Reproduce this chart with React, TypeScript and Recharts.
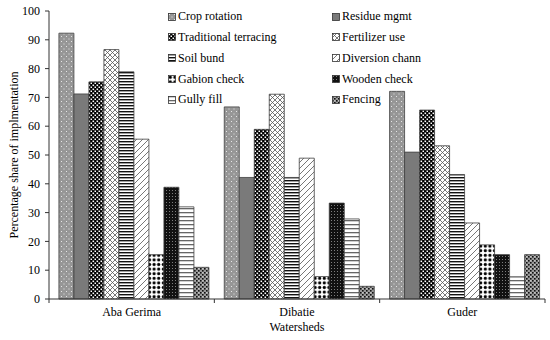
import React from 'react';
import { BarChart, Bar, XAxis, YAxis } from 'recharts';

const categories = ['Aba Gerima', 'Dibatie', 'Guder'];
const cropRotation = [92.3, 66.7, 72.1];
const residueMgmt = [71.2, 42.2, 51.0];
const traditionalTerracing = [75.4, 58.9, 65.6];
const fertilizerUse = [86.6, 71.1, 53.2];
const soilBund = [78.9, 42.2, 43.2];
const diversionChann = [55.5, 48.9, 26.4];
const gabionCheck = [15.4, 7.8, 18.8];
const woodenCheck = [38.8, 33.3, 15.4];
const gullyFill = [32.0, 27.8, 7.7];
const fencing = [11.0, 4.4, 15.4];
const yTicks = [0, 10, 20, 30, 40, 50, 60, 70, 80, 90, 100];

const seriesNames = [
  'Crop rotation', 'Residue mgmt', 'Traditional terracing', 'Fertilizer use', 'Soil bund',
  'Diversion chann', 'Gabion check', 'Wooden check', 'Gully fill', 'Fencing',
];
const seriesValues = [
  cropRotation, residueMgmt, traditionalTerracing, fertilizerUse, soilBund,
  diversionChann, gabionCheck, woodenCheck, gullyFill, fencing,
];

const data = categories.map((name, i) => {
  const row: Record<string, any> = { name };
  seriesValues.forEach((vals, s) => { row['s' + s] = vals[i]; });
  return row;
});

const W = 550;
const H = 340;
const M = { top: 11, right: 5, bottom: 0, left: 0 };
const YW = 49;
const XH = 41;
const PLOT_BOTTOM = H - XH - M.bottom;
const BAND = (W - M.left - M.right - YW) / categories.length;
const FONT = "'Liberation Serif', 'Times New Roman', serif";

const fills = [
  'url(#p0)', '#7a7a7a', 'url(#p2)', 'url(#p3)', 'url(#p4)',
  'url(#p5)', 'url(#p6)', 'url(#p7)', 'url(#p8)', 'url(#p9)',
];

const Patterns = () => (
  <svg width={0} height={0} style={{ position: 'absolute' }}>
    <defs>
      <pattern id="p0" width="5" height="5" patternUnits="userSpaceOnUse">
        <rect width="5" height="5" fill="#969696" />
        <rect x="1" y="1" width="1" height="1" fill="#e6e6e6" />
        <rect x="3.5" y="3.5" width="1" height="1" fill="#e6e6e6" />
      </pattern>
      <pattern id="p2" width="4" height="4" patternUnits="userSpaceOnUse">
        <rect width="4" height="4" fill="#000" />
        <rect x="0.5" y="0.5" width="1.6" height="1.6" fill="#fff" />
        <rect x="2.5" y="2.5" width="1.6" height="1.6" fill="#fff" />
      </pattern>
      <pattern id="p3" width="5" height="5" patternUnits="userSpaceOnUse">
        <rect width="5" height="5" fill="#fff" />
        <path d="M0,0 L5,5 M5,0 L0,5" stroke="#555" strokeWidth="0.8" />
      </pattern>
      <pattern id="p4" width="3" height="3" patternUnits="userSpaceOnUse">
        <rect width="3" height="3" fill="#fff" />
        <rect width="3" height="1.4" fill="#111" />
      </pattern>
      <pattern id="p5" width="6" height="6" patternUnits="userSpaceOnUse">
        <rect width="6" height="6" fill="#fff" />
        <path d="M0,6 L6,0 M-1,1 L1,-1 M5,7 L7,5" stroke="#555" strokeWidth="0.8" />
      </pattern>
      <pattern id="p6" width="4.6" height="4.6" patternUnits="userSpaceOnUse">
        <rect width="4.6" height="4.6" fill="#fff" />
        <circle cx="2.3" cy="2.3" r="1.6" fill="#000" />
      </pattern>
      <pattern id="p7" width="3" height="3" patternUnits="userSpaceOnUse">
        <rect width="3" height="3" fill="#111" />
        <rect x="1" y="1" width="0.9" height="0.9" fill="#999" />
      </pattern>
      <pattern id="p8" width="4" height="4" patternUnits="userSpaceOnUse">
        <rect width="4" height="4" fill="#fff" />
        <rect width="4" height="1.3" fill="#666" />
      </pattern>
      <pattern id="p9" width="4" height="4" patternUnits="userSpaceOnUse">
        <rect width="4" height="4" fill="#999" />
        <rect x="0" y="0" width="1.6" height="1.6" fill="#111" />
        <rect x="2" y="2" width="1.6" height="1.6" fill="#111" />
        <rect x="2.3" y="0.3" width="1" height="1" fill="#eee" />
      </pattern>
    </defs>
  </svg>
);

const XTick = (props: any) => {
  const { x, payload, index } = props;
  const y0 = PLOT_BOTTOM;
  return (
    <g>
      <line x1={x - BAND / 2} x2={x - BAND / 2} y1={y0} y2={y0 + 4} stroke="#333" />
      {index === categories.length - 1 && (
        <line x1={x + BAND / 2} x2={x + BAND / 2} y1={y0} y2={y0 + 4} stroke="#333" />
      )}
      <text x={x} y={y0 + 17} textAnchor="middle" fontSize={12} fontFamily={FONT} fill="#000">
        {payload.value}
      </text>
    </g>
  );
};

const YLabel = () => {
  const cx = 14;
  const cy = (M.top + PLOT_BOTTOM) / 2;
  return (
    <text
      x={cx}
      y={cy}
      transform={`rotate(-90, ${cx}, ${cy})`}
      textAnchor="middle"
      dominantBaseline="central"
      fontSize={12}
      fontFamily={FONT}
      fill="#000"
    >
      Percentage share of implmentation
    </text>
  );
};

const legendRows = [16.7, 37.3, 58.3, 79, 99.5];
const legendCols = [168, 332];

const LegendOverlay = () => (
  <div style={{ position: 'absolute', left: 0, top: 0, width: W, height: H, pointerEvents: 'none' }}>
    {seriesNames.map((name, i) => {
      const row = Math.floor(i / 2);
      const col = i % 2;
      return (
        <div
          key={name}
          style={{
            position: 'absolute',
            left: legendCols[col],
            top: legendRows[row] - 8,
            height: 16,
            display: 'flex',
            alignItems: 'center',
            fontFamily: FONT,
            fontSize: 12,
            color: '#000',
            whiteSpace: 'nowrap',
          }}
        >
          <svg width={8} height={8} style={{ marginRight: 2 }}>
            <rect x={0.5} y={0.5} width={7} height={7} fill={fills[i]} stroke="#333" strokeWidth={0.8} />
          </svg>
          <span>{name}</span>
        </div>
      );
    })}
  </div>
);

export default function App() {
  return (
    <div style={{ position: 'absolute', left: 0, top: 0, width: W, height: H, background: '#fff' }}>
      <Patterns />
      <BarChart
        width={W}
        height={H}
        data={data}
        margin={M}
        barCategoryGap="6%"
        barGap={0}
      >
        <XAxis
          dataKey="name"
          height={XH}
          tickLine={false}
          axisLine={{ stroke: '#333' }}
          tick={<XTick />}
          interval={0}
          label={{ value: 'Watersheds', position: 'insideBottom', offset: 9, fontSize: 12, fontFamily: FONT, fill: '#000' }}
        />
        <YAxis
          width={YW}
          domain={[0, 100]}
          ticks={yTicks}
          interval={0}
          tickSize={4}
          tickMargin={5}
          tickLine={{ stroke: '#333' }}
          axisLine={{ stroke: '#333' }}
          tick={{ fontSize: 12, fontFamily: FONT, fill: '#000' }}
          label={{ content: () => <YLabel /> }}
        />
        {seriesNames.map((name, i) => (
          <Bar
            key={name}
            dataKey={'s' + i}
            name={name}
            fill={fills[i]}
            stroke="#404040"
            strokeWidth={0.8}
            isAnimationActive={false}
          />
        ))}
      </BarChart>
      <LegendOverlay />
    </div>
  );
}
